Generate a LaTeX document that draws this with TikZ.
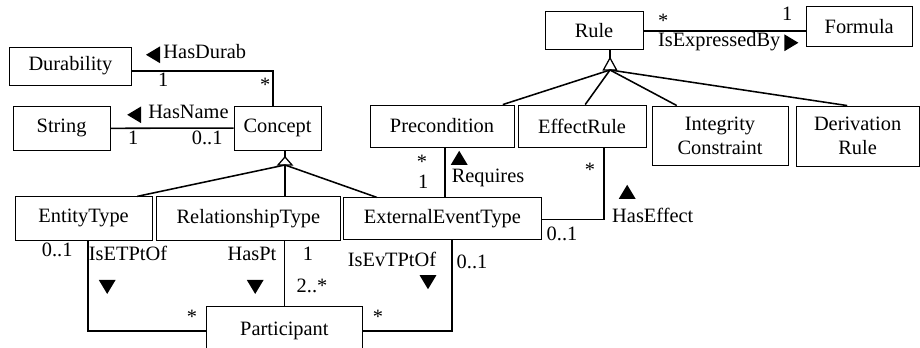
\documentclass[tikz,border=0pt]{standalone}
\usepackage{fontspec}
\setmainfont{Liberation Serif}

\tikzset{
  cls/.style={draw, line width=0.6pt, inner sep=1pt, align=center},
  assoc/.style={line width=1.1pt},
  mult/.style={inner sep=0pt, text height=1.5ex, text depth=0.25ex},
  rolemark/.pic={\fill (-0.21,-0.17) -- (0.21,-0.17) -- (0,0.18) -- cycle;},
}

\begin{document}
\begin{tikzpicture}[font=\fontsize{14.5}{17}\selectfont]
\useasboundingbox (0,0) rectangle (23,8.7);

% concept side
\node[cls, minimum width=3.03cm, minimum height=0.95cm] (dur) at (1.76,7.05) {Durability};
\node[cls, minimum width=2.43cm, minimum height=1.08cm] (str) at (1.54,5.49) {String};
\node[cls, minimum width=2.18cm, minimum height=1.1cm] (concept) at (6.94,5.5) {Concept};
\node[cls, minimum width=3.43cm, minimum height=1.08cm] (ent) at (2.09,3.24) {EntityType};
\node[cls, minimum width=4.58cm, minimum height=1.08cm] (rel) at (6.21,3.24) {RelationshipType};
\node[cls, minimum width=4.93cm, minimum height=1.05cm] (eet) at (11.06,3.23) {ExternalEventType};
\node[cls, minimum width=3.88cm, minimum height=1.2cm] (part) at (7.11,0.43) {Participant};

% rule side
\node[cls, minimum width=2.45cm, minimum height=0.95cm] (rule) at (14.85,7.93) {Rule};
\node[cls, minimum width=2.65cm, minimum height=0.98cm] (formula) at (21.48,8.04) {Formula};
\node[cls, minimum width=3.6cm, minimum height=1.05cm] (precond) at (11.05,5.55) {Precondition};
\node[cls, minimum width=3.2cm, minimum height=1.05cm] (effect) at (14.55,5.55) {EffectRule};
\node[cls, minimum width=3.4cm, minimum height=1.48cm] (integ) at (18.0,5.31) {Integrity\\Constraint};
\node[cls, minimum width=3.08cm, minimum height=1.5cm] (deriv) at (21.44,5.3) {Derivation\\Rule};

% generalisation of Concept
\coordinate (cgen) at (7.125,4.775);
\coordinate (cgenb) at (7.125,4.575);
\draw[assoc] (concept.south -| cgen) -- (cgen);
\draw[line width=0.9pt] (cgen) -- ++(-0.175,-0.2) -- ++(0.35,0) -- cycle;
\draw[assoc] (cgenb) -- ([xshift=1.34cm]ent.north);
\draw[assoc] (cgenb) -- (cgenb |- rel.north);
\draw[assoc] (cgenb) -- ([xshift=-1.64cm]eet.north);

% generalisation of Rule
\coordinate (rgen) at (15.25,7.25);
\coordinate (rgenb) at (15.25,6.95);
\draw[assoc] (rule.south -| rgen) -- (rgen);
\draw[line width=0.9pt] (rgen) -- ++(-0.165,-0.3) -- ++(0.33,0) -- cycle;
\draw[assoc] (rgenb) -- ([xshift=1.52cm]precond.north);
\draw[assoc] (rgenb) -- ([xshift=0.08cm]effect.north);
\draw[assoc] (rgenb) -- ([xshift=-1.08cm]integ.north);
\draw[assoc] (rgenb) -- ([xshift=-0.26cm]deriv.north);

% associations
\draw[assoc] ([yshift=-0.12cm]dur.east) -| ([xshift=-0.11cm]concept.north);
\draw[assoc] (str) -- (concept);
\draw[assoc] (rule.east) -- (rule.east -| formula.west);
\draw[assoc] ([xshift=0.07cm]precond.south) -- ([xshift=0.07cm]precond.south |- eet.north);
\draw[assoc] ([yshift=-0.02cm]eet.east) -| ([xshift=0.55cm]effect.south);
\draw[assoc] ([xshift=0.11cm]ent.south) |- (part.west);
\draw[assoc] (part.north) -- (part.north |- rel.south);
\draw[assoc] ([xshift=0.24cm]eet.south) |- (part.east);

% association names and reading directions
\pic[rotate=90] (mDurab) at (3.83,7.33) {rolemark};
\node[mult, anchor=west] (nDurab) at (4.08,7.33) {HasDurab};
\pic[rotate=90] (mName) at (3.36,5.83) {rolemark};
\node[mult, anchor=west] (nName) at (3.7,5.83) {HasName};
\node[mult] (nExpr) at (17.98,7.63) {IsExpressedBy};
\pic[rotate=-90] (mExpr) at (19.78,7.63) {rolemark};
\pic (mReq) at (11.48,4.75) {rolemark};
\node[mult] (nReq) at (12.2,4.23) {Requires};
\pic (mEff) at (15.68,3.9) {rolemark};
\node[mult] (nEff) at (16.32,3.25) {HasEffect};
\node[mult] (nETPt) at (3.2,2.28) {IsETPtOf};
\pic[rotate=180] (mETPt) at (2.68,1.53) {rolemark};
\node[mult] (nPt) at (6.3,2.28) {HasPt};
\pic[rotate=180] (mPt) at (6.38,1.53) {rolemark};
\node[mult] (nEvTPt) at (9.8,2.15) {IsEvTPtOf};
\pic[rotate=180] (mEvTPt) at (10.7,1.65) {rolemark};

% multiplicities
\node[mult] (mu1) at (4.08,6.63) {1};
\node[mult] (mu2) at (6.63,6.52) {*};
\node[mult] (mu3) at (3.33,5.18) {1};
\node[mult] (mu4) at (5.18,5.18) {0..1};
\node[mult] (mu5) at (16.58,8.12) {*};
\node[mult] (mu6) at (19.68,8.3) {1};
\node[mult] (mu7) at (10.55,4.58) {*};
\node[mult] (mu8) at (10.58,4.08) {1};
\node[mult] (mu9) at (14.75,4.4) {*};
\node[mult] (mu10) at (14.05,2.78) {0..1};
\node[mult] (mu11) at (1.43,2.38) {0..1};
\node[mult] (mu12) at (7.7,2.3) {1};
\node[mult] (mu13) at (7.8,1.5) {2..*};
\node[mult] (mu14) at (4.8,0.72) {*};
\node[mult] (mu15) at (11.8,2.08) {0..1};
\node[mult] (mu16) at (9.45,0.72) {*};
\end{tikzpicture}
\end{document}
